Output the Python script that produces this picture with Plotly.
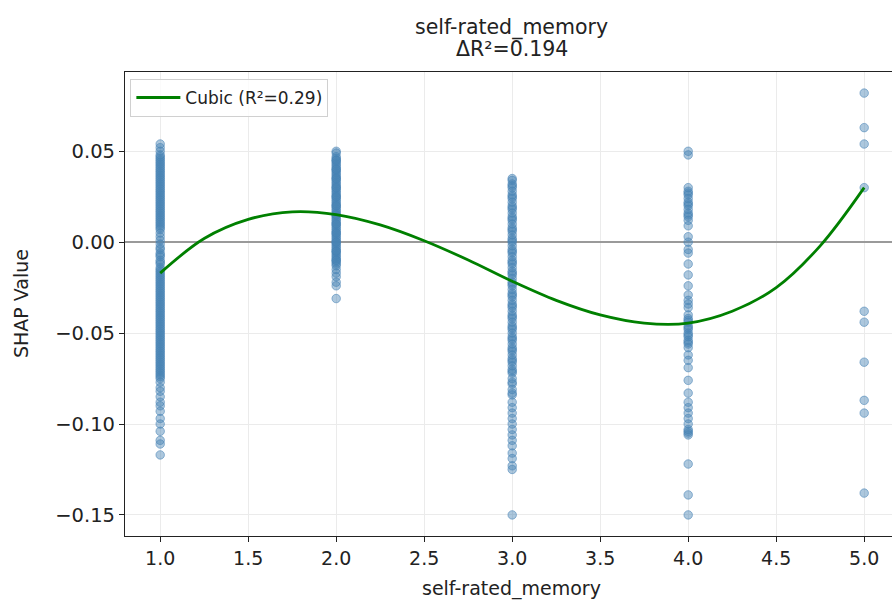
import plotly.graph_objects as go

# ---- data ----
shap_x1 = [0.054, 0.052, 0.050, 0.048, 0.046, 0.045, 0.043, 0.042, 0.040, 0.039, 0.037, 0.036,
           0.034, 0.033, 0.031, 0.030, 0.028, 0.027, 0.025, 0.024, 0.022, 0.021, 0.019, 0.018,
           0.016, 0.015, 0.013, 0.012, 0.010, 0.009, 0.007, 0.005, 0.003, 0.001, -0.001, -0.003,
           -0.006, -0.008, -0.010, -0.012, -0.014, -0.016, -0.017, -0.019, -0.020, -0.022, -0.023,
           -0.025, -0.026, -0.028, -0.029, -0.031, -0.032, -0.034, -0.035, -0.037, -0.038, -0.040,
           -0.041, -0.043, -0.044, -0.046, -0.047, -0.049, -0.050, -0.052, -0.053, -0.055, -0.057,
           -0.059, -0.061, -0.063, -0.065, -0.067, -0.069, -0.071, -0.073, -0.075, -0.077, -0.080,
           -0.082, -0.085, -0.088, -0.090, -0.093, -0.097, -0.100, -0.104, -0.109, -0.111, -0.117,
           0.047, 0.044, 0.041, 0.038, 0.035, 0.032, 0.029, 0.026, 0.023, 0.020, 0.017, 0.014,
           0.011, 0.008, -0.004, -0.007, -0.011, -0.015, -0.018, -0.021, -0.024, -0.027, -0.030,
           -0.033, -0.036, -0.039, -0.042, -0.045, -0.048, -0.051, -0.054, -0.056, -0.058, -0.060,
           -0.062, -0.064, -0.066, -0.068, -0.070, -0.072, -0.074]
shap_x2 = [0.050, 0.049, 0.047, 0.046, 0.045, 0.044, 0.043, 0.042, 0.041, 0.040, 0.039, 0.038,
           0.037, 0.036, 0.035, 0.034, 0.033, 0.032, 0.031, 0.030, 0.029, 0.028, 0.027, 0.026,
           0.025, 0.024, 0.023, 0.022, 0.021, 0.020, 0.019, 0.018, 0.017, 0.016, 0.015, 0.014,
           0.013, 0.012, 0.011, 0.010, 0.009, 0.008, 0.007, 0.006, 0.005, 0.004, 0.003, 0.002,
           0.001, 0.000, -0.001, -0.002, -0.003, -0.004, -0.005, -0.006, -0.007, -0.008, -0.009,
           -0.010, -0.011, -0.012, -0.013, -0.015, -0.017, -0.019, -0.022, -0.024, -0.031,
           0.045, 0.040, 0.035, 0.030, 0.025, 0.020, 0.015, 0.010, 0.005, 0.000, -0.005, -0.010]
shap_x3 = [0.035, 0.034, 0.032, 0.030, 0.028, 0.026, 0.024, 0.022, 0.020, 0.018, 0.016, 0.014,
           0.012, 0.010, 0.008, 0.006, 0.004, 0.002, 0.000, -0.002, -0.004, -0.006, -0.008, -0.010,
           -0.012, -0.014, -0.016, -0.018, -0.020, -0.022, -0.024, -0.026, -0.028, -0.030, -0.032,
           -0.034, -0.036, -0.038, -0.040, -0.042, -0.044, -0.046, -0.048, -0.050, -0.052, -0.054,
           -0.056, -0.058, -0.060, -0.062, -0.064, -0.066, -0.068, -0.070, -0.072, -0.075, -0.078,
           -0.081, -0.084, -0.088, -0.091, -0.094, -0.097, -0.100, -0.103, -0.106, -0.109, -0.112,
           -0.116, -0.119, -0.123, -0.125, -0.150,
           0.031, 0.025, 0.019, 0.013, 0.007, 0.001, -0.005, -0.011, -0.017, -0.023, -0.029,
           -0.035, -0.041, -0.047, -0.053, -0.059, -0.065, -0.071, -0.077, -0.083]
shap_x4 = [0.050, 0.048, 0.030, 0.028, 0.026, 0.024, 0.022, 0.020, 0.018, 0.016, 0.014, 0.012,
           0.009, 0.003, 0.000, -0.004, -0.006, -0.012, -0.018, -0.024, -0.029, -0.032, -0.034,
           -0.036, -0.040, -0.042, -0.044, -0.046, -0.048, -0.050, -0.052, -0.054, -0.056, -0.058,
           -0.062, -0.065, -0.069, -0.076, -0.083, -0.088, -0.091, -0.094, -0.097, -0.100, -0.103,
           -0.105, -0.106, -0.122, -0.139, -0.150,
           0.027, 0.021, 0.015, -0.043, -0.047, -0.051, -0.055, -0.104]
shap_x5 = [0.082, 0.063, 0.054, 0.030, -0.038, -0.044, -0.066, -0.087, -0.094, -0.138]

feature_levels = [1.0, 2.0, 3.0, 4.0, 5.0]
shap_by_level = [shap_x1, shap_x2, shap_x3, shap_x4, shap_x5]

fit_x = [1.0, 1.25, 1.5, 1.75, 2.0, 2.25, 2.5, 2.75, 3.0, 3.25, 3.5, 3.75, 4.0, 4.25, 4.5, 4.75, 5.0]
fit_y = [-0.017, 0.002, 0.0125, 0.0167, 0.0152, 0.0095, 0.0008, -0.0098, -0.0215, -0.032,
         -0.040, -0.0445, -0.0445, -0.038, -0.025, -0.002, 0.030]

x_ticks = [1.0, 1.5, 2.0, 2.5, 3.0, 3.5, 4.0, 4.5, 5.0]
y_ticks = [0.05, 0.00, -0.05, -0.10, -0.15]

title_line1 = "self-rated_memory"
title_line2 = "ΔR²=0.194"
x_label = "self-rated_memory"
y_label = "SHAP Value"
fit_name = "Cubic (R²=0.29)"

# ---- build figure ----
pts_x, pts_y = [], []
for lvl, vals in zip(feature_levels, shap_by_level):
    pts_x += [lvl] * len(vals)
    pts_y += vals

FONT = "DejaVu Sans"
TXT = "#222"
fig = go.Figure()
fig.add_trace(go.Scatter(
    x=pts_x, y=pts_y, mode="markers", showlegend=False,
    marker=dict(size=8.5, color="rgba(70,130,180,0.45)",
                line=dict(width=1, color="rgba(70,130,180,0.55)")),
))
fig.add_trace(go.Scatter(
    x=fit_x, y=fit_y, mode="lines", name=fit_name, line_shape="spline",
    line=dict(color="#008000", width=2.8),
))

fig.update_layout(
    width=892, height=601,
    margin=dict(l=125, r=0, t=72, b=65),
    paper_bgcolor="white", plot_bgcolor="white",
    font=dict(family=FONT, color=TXT, size=19),
    legend=dict(x=0.007, y=0.985, xanchor="left", yanchor="top",
                bgcolor="rgba(255,255,255,0.8)", bordercolor="#d0d0d0", borderwidth=1,
                itemwidth=44, tracegroupgap=0,
                font=dict(size=17, family=FONT, color=TXT)),
    showlegend=True,
    annotations=[
        dict(text=title_line1, xref="paper", yref="paper", x=(512 - 125) / 767, y=1.0960,
             xanchor="center", yanchor="middle", showarrow=False,
             font=dict(size=20.5, family=FONT, color=TXT)),
        dict(text=title_line2, xref="paper", yref="paper", x=(512 - 125) / 767, y=1.0496,
             xanchor="center", yanchor="middle", showarrow=False,
             font=dict(size=20.5, family=FONT, color=TXT)),
        dict(text=x_label, xref="paper", yref="paper", x=(512 - 125) / 767, y=-0.1142,
             xanchor="center", yanchor="middle", showarrow=False,
             font=dict(size=19, family=FONT, color=TXT)),
        dict(text=y_label, xref="paper", yref="paper", x=(21 - 125) / 767, y=0.5,
             xanchor="center", yanchor="middle", showarrow=False, textangle=-90,
             font=dict(size=19, family=FONT, color=TXT)),
    ],
)
fig.update_xaxes(
    range=[0.8, 5.158], tickvals=x_ticks, ticktext=[f"{v:.1f}" for v in x_ticks],
    showline=True, linecolor="#222", linewidth=1.2, mirror=True,
    ticks="outside", ticklen=5, tickcolor="#222", tickwidth=1.2,
    showgrid=True, gridcolor="#ebebeb", gridwidth=1, zeroline=False,
    tickfont=dict(size=19),
)
fig.update_yaxes(
    range=[-0.1616, 0.0936], tickvals=y_ticks, ticktext=["0.05", "0.00", "−0.05", "−0.10", "−0.15"],
    showline=True, linecolor="#222", linewidth=1.2, mirror=False,
    ticks="outside", ticklen=5, tickcolor="#222", tickwidth=1.2,
    showgrid=True, gridcolor="#ebebeb", gridwidth=1,
    zeroline=True, zerolinecolor="#9a9a9a", zerolinewidth=1.6,
    tickfont=dict(size=19.5),
)

fig.write_html("out.html")
